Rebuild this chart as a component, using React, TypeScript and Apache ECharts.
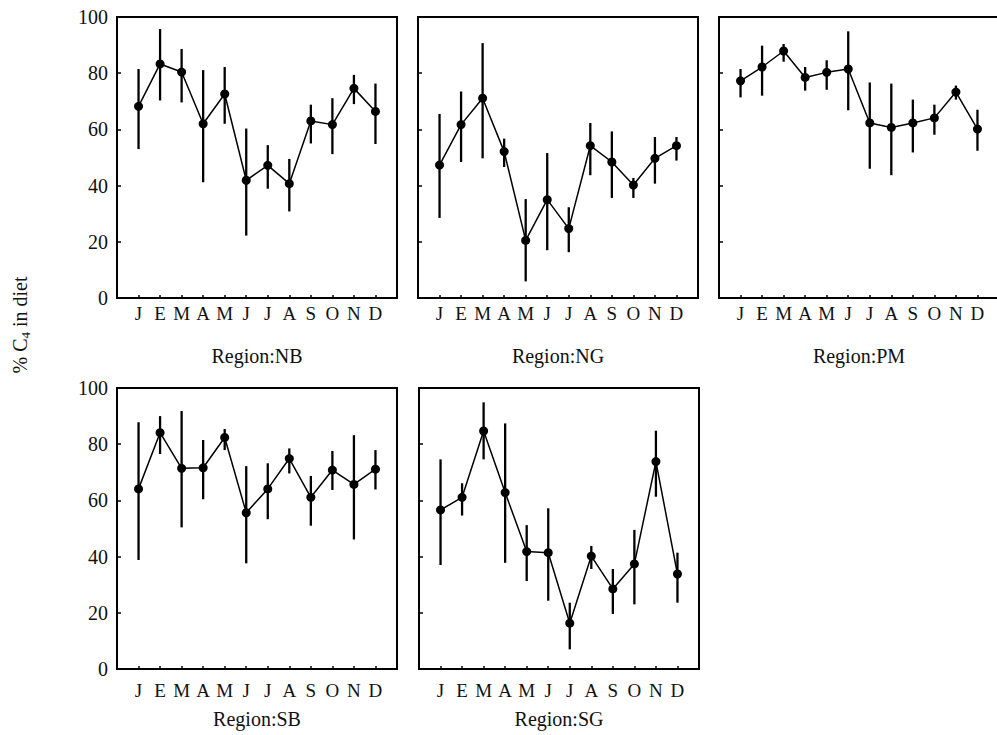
import React, { useEffect, useRef } from "react";
import * as echarts from "echarts";

const months = ["J", "E", "M", "A", "M", "J", "J", "A", "S", "O", "N", "D"];
const yTicks = [0, 20, 40, 60, 80, 100];

const nbMean = [68.2, 83.3, 80.4, 62.0, 72.6, 41.9, 47.2, 40.7, 63.0, 61.7, 74.6, 66.4];
const nbLow = [53.0, 70.3, 69.6, 41.2, 62.0, 22.2, 38.9, 30.8, 55.0, 51.2, 69.0, 54.8];
const nbHigh = [81.5, 95.7, 88.6, 81.1, 82.2, 60.3, 54.4, 49.5, 68.8, 71.1, 79.4, 76.3];

const ngMean = [47.3, 61.7, 71.1, 52.1, 20.5, 35.0, 24.7, 54.2, 48.4, 40.2, 49.7, 54.2];
const ngLow = [28.5, 48.4, 49.7, 46.6, 5.9, 17.0, 16.3, 43.7, 35.6, 35.6, 40.7, 48.9];
const ngHigh = [65.5, 73.5, 90.7, 56.7, 35.2, 51.6, 32.3, 62.3, 59.3, 42.7, 57.3, 57.3];

const pmMean = [77.3, 82.2, 87.9, 78.5, 80.3, 81.5, 62.3, 60.7, 62.3, 64.1, 73.3, 60.1];
const pmLow = [71.4, 72.0, 84.1, 73.8, 74.1, 66.8, 46.0, 43.7, 51.8, 58.1, 70.6, 52.4];
const pmHigh = [81.5, 89.8, 90.4, 82.2, 84.6, 94.9, 76.7, 76.3, 70.6, 68.8, 75.6, 67.0];

const sbMean = [64.1, 84.1, 71.4, 71.6, 82.4, 55.6, 64.1, 74.9, 61.1, 70.8, 65.7, 71.1];
const sbLow = [38.8, 76.5, 50.4, 60.4, 77.9, 37.6, 53.3, 69.6, 51.0, 63.7, 46.1, 63.9];
const sbHigh = [87.8, 90.0, 91.8, 81.5, 85.4, 72.2, 73.2, 78.5, 68.7, 77.6, 83.2, 77.9];

const sgMean = [56.6, 61.1, 84.7, 62.8, 41.8, 41.4, 16.3, 40.2, 28.5, 37.4, 73.8, 33.8];
const sgLow = [37.0, 54.6, 74.6, 37.8, 31.3, 24.3, 7.0, 35.6, 19.6, 23.0, 61.3, 23.6];
const sgHigh = [74.6, 66.1, 94.9, 87.4, 51.2, 57.2, 23.6, 43.8, 35.6, 49.5, 84.8, 41.4];

const regionNames = ["Region:NB", "Region:NG", "Region:PM", "Region:SB", "Region:SG"];
const FONT = "'Liberation Serif', 'Times New Roman', serif";

export default function App() {
  const ref = useRef<HTMLDivElement>(null);
  useEffect(() => {
    if (!ref.current) return;
    const chart = echarts.init(ref.current, null, { renderer: "svg" });

    const panels = [
      { mean: nbMean, low: nbLow, high: nbHigh, left: 117, top: 17, showY: true, lblMargin: 6 },
      { mean: ngMean, low: ngLow, high: ngHigh, left: 418, top: 17, showY: false, lblMargin: 6 },
      { mean: pmMean, low: pmLow, high: pmHigh, left: 719, top: 17, showY: false, lblMargin: 6 },
      { mean: sbMean, low: sbLow, high: sbHigh, left: 117, top: 388, showY: true, lblMargin: 12 },
      { mean: sgMean, low: sgLow, high: sgHigh, left: 419, top: 388, showY: false, lblMargin: 12 },
    ];
    const W = 280;
    const H = 281;

    const grid = panels.map((p) => ({
      left: p.left,
      top: p.top,
      width: W,
      height: H,
      show: true,
      borderColor: "#000",
      borderWidth: 2,
      backgroundColor: "transparent",
      containLabel: false,
      outerBoundsMode: "none",
    }));

    const xAxis = panels.map((p, i) => ({
      type: "value",
      gridIndex: i,
      min: 0,
      max: 13,
      interval: 1,
      axisLine: { show: false },
      splitLine: { show: false },
      axisTick: { show: true, inside: true, length: 3, lineStyle: { color: "#000", width: 1.5 } },
      axisLabel: {
        show: true,
        margin: p.lblMargin,
        color: "#111",
        fontFamily: FONT,
        fontSize: 19,
        formatter: (v: number) => (v >= 1 && v <= 12 ? months[v - 1] : ""),
      },
    }));

    const yAxis = panels.map((p, i) => ({
      type: "value",
      gridIndex: i,
      min: 0,
      max: 100,
      interval: 20,
      axisLine: { show: false },
      splitLine: { show: false },
      axisTick: { show: true, inside: true, length: 4, lineStyle: { color: "#000", width: 1.5 } },
      axisLabel: {
        show: p.showY,
        margin: 9,
        color: "#111",
        fontFamily: FONT,
        fontSize: 20,
        formatter: (v: number) => (yTicks.includes(v) ? String(v) : ""),
      },
    }));

    const series: any[] = [];
    panels.forEach((p, i) => {
      series.push({
        type: "custom",
        xAxisIndex: i,
        yAxisIndex: i,
        encode: { x: 0, y: [1, 2] },
        data: months.map((_, k) => [k + 1, p.low[k], p.high[k]]),
        renderItem: (params: any, api: any) => {
          const x = api.value(0);
          const a = api.coord([x, api.value(1)]);
          const b = api.coord([x, api.value(2)]);
          return {
            type: "line",
            shape: { x1: a[0], y1: a[1], x2: b[0], y2: b[1] },
            style: { stroke: "#000", lineWidth: 2.3 },
          };
        },
        z: 2,
      });
      series.push({
        type: "line",
        xAxisIndex: i,
        yAxisIndex: i,
        data: months.map((_, k) => [k + 1, p.mean[k]]),
        symbol: "circle",
        symbolSize: 9,
        itemStyle: { color: "#000" },
        lineStyle: { color: "#000", width: 1.5 },
        z: 3,
      });
    });

    const graphic: any[] = panels.map((p, i) => ({
      type: "text",
      x: p.left + W / 2,
      y: i < 3 ? 356 : 719,
      style: {
        text: regionNames[i],
        font: `20px ${FONT}`,
        fill: "#111",
        align: "center",
        verticalAlign: "middle",
      },
    }));
    graphic.push({
      type: "text",
      x: 21,
      y: 325,
      rotation: Math.PI / 2,
      style: {
        text: "{a|% C}{b|4}{a| in diet}",
        align: "center",
        verticalAlign: "middle",
        fill: "#111",
        rich: {
          a: { fontFamily: FONT, fontSize: 20, lineHeight: 22, verticalAlign: "top", fill: "#111" },
          b: { fontFamily: FONT, fontSize: 13, lineHeight: 14, padding: [9, 0, 0, 0], verticalAlign: "top", fill: "#111" },
        },
      },
    });

    chart.setOption({
      animation: false,
      backgroundColor: "#fff",
      grid,
      xAxis,
      yAxis,
      series,
      graphic,
    });
    return () => chart.dispose();
  }, []);
  return (
    <div
      ref={ref}
      style={{ position: "absolute", left: 0, top: 0, width: 997, height: 735 }}
    />
  );
}
